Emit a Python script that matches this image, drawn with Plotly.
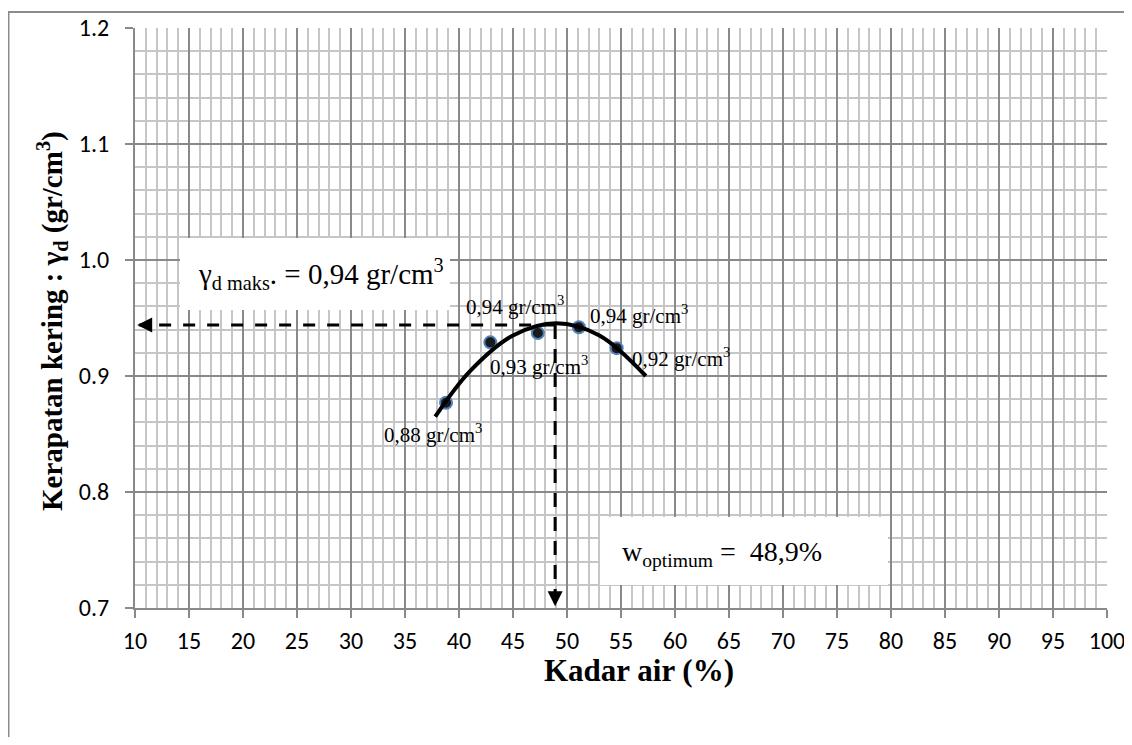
import plotly.graph_objects as go

# ---------------- data ----------------
water_content = [38.8, 42.9, 47.3, 51.1, 54.6]          # Kadar air (%)
dry_density = [0.877, 0.929, 0.937, 0.942, 0.924]        # gamma_d (gr/cm3)
point_labels = ["0,88", "0,93", "0,94", "0,94", "0,92"]

trend_x = [37.8, 41.0, 45.0, 49.0, 53.0, 57.3]
trend_y = [0.865, 0.904, 0.935, 0.9455, 0.935, 0.900]

w_optimum = 48.9
gamma_d_max = 0.944
gamma_d_max_text = "0,94"
w_optimum_text = "48,9%"

x_tick_vals = list(range(10, 101, 5))
y_tick_vals = [0.7, 0.8, 0.9, 1.0, 1.1, 1.2]

# ---------------- geometry ----------------
OFF = 8                       # browser body margin
W, H = 1124, 729
L, R, T, B = 127, 25, 20, 129
PW, PH = W - L - R, H - T - B


def px_x(s):
    """screen x pixel -> paper"""
    return (s - OFF - L) / PW


def px_y(s):
    """screen y pixel -> paper"""
    return (H - B - (s - OFF)) / PH


SERIF = "Liberation Serif, Times New Roman, serif"
SANS = "Carlito, Calibri, Lato, sans-serif"
MAJOR = "#898989"
MINOR = "#c6c6c6"

fig = go.Figure()

# dashed guide lines
fig.add_trace(go.Scatter(x=[w_optimum, 10.4], y=[gamma_d_max, gamma_d_max], mode="lines",
                         line=dict(color="black", width=3, dash="12px,12px"),
                         hoverinfo="skip", showlegend=False))
fig.add_trace(go.Scatter(x=[w_optimum, w_optimum], y=[gamma_d_max, 0.703], mode="lines",
                         line=dict(color="black", width=3, dash="14px,10px"),
                         hoverinfo="skip", showlegend=False))

# data points
fig.add_trace(go.Scatter(x=water_content, y=dry_density, mode="markers",
                         marker=dict(size=12, color="#1a1a1a",
                                     line=dict(color="#4f81bd", width=2)),
                         showlegend=False))
# trendline
fig.add_trace(go.Scatter(x=trend_x, y=trend_y, mode="lines", line_shape="spline",
                         line=dict(color="black", width=4),
                         hoverinfo="skip", showlegend=False))

annotations = []
# point labels
label_offsets = [(-13, -31), (49, -23), (-23, 28), (60, 13), (64, -9)]
for xv, yv, lab, (dx, dy) in zip(water_content, dry_density, point_labels, label_offsets):
    annotations.append(dict(x=xv, y=yv, xref="x", yref="y", showarrow=False,
                            text=f"{lab} gr/cm<sup>3</sup>", xshift=dx, yshift=dy,
                            font=dict(family=SERIF, size=21, color="black")))

# arrowheads
annotations.append(dict(x=10.2, y=gamma_d_max, ax=11.6, ay=gamma_d_max, xref="x", yref="y",
                        axref="x", ayref="y", text="", showarrow=True, arrowhead=2,
                        arrowsize=1, arrowwidth=3, arrowcolor="black"))
annotations.append(dict(x=w_optimum, y=0.7015, ax=w_optimum, ay=0.713, xref="x", yref="y",
                        axref="x", ayref="y", text="", showarrow=True, arrowhead=2,
                        arrowsize=1, arrowwidth=3, arrowcolor="black"))

# box texts
annotations.append(dict(x=px_x(196), y=px_y(274), xref="paper", yref="paper",
                        xanchor="left", yanchor="middle", showarrow=False,
                        text=f"γ<sub>d maks</sub>. = {gamma_d_max_text} gr/cm<sup>3</sup>",
                        font=dict(family=SERIF, size=29, color="black")))
annotations.append(dict(x=px_x(620), y=px_y(553), xref="paper", yref="paper",
                        xanchor="left", yanchor="middle", showarrow=False,
                        text=f"w<sub>optimum</sub> =  {w_optimum_text}",
                        font=dict(family=SERIF, size=28, color="black")))

# axis titles
annotations.append(dict(x=px_x(52), y=px_y(321), xref="paper", yref="paper",
                        xanchor="center", yanchor="middle",
                        showarrow=False, textangle=-90,
                        text="<b>Kerapatan kering : γ<sub>d</sub> (gr/cm<sup>3</sup>)</b>",
                        font=dict(family=SERIF, size=29, color="black")))
annotations.append(dict(x=px_x(639), y=px_y(670), xref="paper", yref="paper",
                        xanchor="center", yanchor="middle",
                        showarrow=False, text="<b>Kadar air (%)</b>",
                        font=dict(family=SERIF, size=31, color="black")))

shapes = [
    # outer chart border
    dict(type="rect", xref="paper", yref="paper", x0=px_x(OFF + 0.5), x1=px_x(1200),
         y0=px_y(800), y1=px_y(12), line=dict(color="#8c8c8c", width=2),
         fillcolor="rgba(0,0,0,0)", layer="above"),
    # white boxes
    dict(type="rect", xref="paper", yref="paper", x0=px_x(180), x1=px_x(450),
         y0=px_y(310), y1=px_y(238), line=dict(width=0), fillcolor="white", layer="above"),
    dict(type="rect", xref="paper", yref="paper", x0=px_x(600), x1=px_x(888),
         y0=px_y(585), y1=px_y(517), line=dict(width=0), fillcolor="white", layer="above"),
]

fig.update_layout(
    width=W, height=H,
    margin=dict(l=L, r=R, t=T, b=B, pad=0, autoexpand=False),
    paper_bgcolor="white", plot_bgcolor="white",
    showlegend=False,
    annotations=annotations,
    shapes=shapes,
    xaxis=dict(range=[10, 100], tickvals=x_tick_vals, ticktext=[str(v) for v in x_tick_vals],
               automargin=False,
               showgrid=True, gridcolor=MAJOR, gridwidth=2,
               minor=dict(dtick=1, showgrid=True, gridcolor=MINOR, gridwidth=2, ticks=""),
               showline=True, linecolor=MAJOR, linewidth=2,
               ticks="outside", ticklen=8, tickcolor=MAJOR, tickwidth=2,
               tickfont=dict(family=SANS, size=24, color="black"),
               ticklabelstandoff=2, zeroline=False, fixedrange=True),
    yaxis=dict(range=[0.7, 1.2], tickvals=y_tick_vals, ticktext=[f"{v:.1f}" for v in y_tick_vals],
               automargin=False,
               showgrid=True, gridcolor=MAJOR, gridwidth=2,
               minor=dict(dtick=0.02, tick0=0.7, showgrid=True, gridcolor=MINOR, gridwidth=2, ticks=""),
               showline=True, linecolor=MAJOR, linewidth=2,
               ticks="outside", ticklen=8, tickcolor=MAJOR, tickwidth=2,
               tickfont=dict(family=SANS, size=24, color="black"),
               ticklabelstandoff=11, zeroline=False, fixedrange=True),
)

fig.write_html("out.html")
